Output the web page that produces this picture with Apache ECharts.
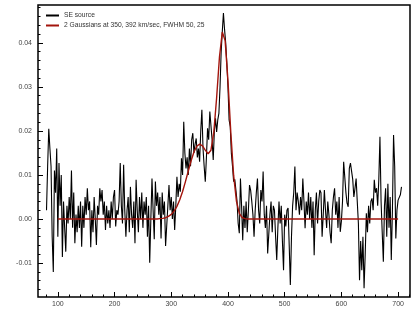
<!DOCTYPE html>
<html>
<head>
    <meta charset="UTF-8">
    <script src="https://cdn.jsdelivr.net/npm/echarts@6/dist/echarts.min.js"></script>
    <title>SE source spectrum</title>
</head>
<body style="margin:0;background:#fff;">
<div id="chart" style="width:415px;height:335px;"></div>
<script>
    // spectrum channels (km/sec) and flux
    var velocity = [
        80, 82, 84, 86, 88, 90, 92, 94, 96, 98,
        100, 102, 104, 106, 108, 110, 112, 114, 116, 118,
        120, 122, 124, 126, 128, 130, 132, 134, 136, 138,
        140, 142, 144, 146, 148, 150, 152, 154, 156, 158,
        160, 162, 164, 166, 168, 170, 172, 174, 176, 178,
        180, 182, 184, 186, 188, 190, 192, 194, 196, 198,
        200, 202, 204, 206, 208, 210, 212, 214, 216, 218,
        220, 222, 224, 226, 228, 230, 232, 234, 236, 238,
        240, 242, 244, 246, 248, 250, 252, 254, 256, 258,
        260, 262, 264, 266, 268, 270, 272, 274, 276, 278,
        280, 282, 284, 286, 288, 290, 292, 294, 296, 298,
        300, 302, 304, 306, 308, 310, 312, 314, 316, 318,
        320, 322, 324, 326, 328, 330, 332, 334, 336, 338,
        340, 342, 344, 346, 348, 350, 352, 354, 356, 358,
        360, 362, 364, 366, 368, 370, 372, 374, 376, 378,
        380, 382, 384, 386, 388, 390, 392, 394, 396, 398,
        400, 402, 404, 406, 408, 410, 412, 414, 416, 418,
        420, 422, 424, 426, 428, 430, 432, 434, 436, 438,
        440, 442, 444, 446, 448, 450, 452, 454, 456, 458,
        460, 462, 464, 466, 468, 470, 472, 474, 476, 478,
        480, 482, 484, 486, 488, 490, 492, 494, 496, 498,
        500, 502, 504, 506, 508, 510, 512, 514, 516, 518,
        520, 522, 524, 526, 528, 530, 532, 534, 536, 538,
        540, 542, 544, 546, 548, 550, 552, 554, 556, 558,
        560, 562, 564, 566, 568, 570, 572, 574, 576, 578,
        580, 582, 584, 586, 588, 590, 592, 594, 596, 598,
        600, 602, 604, 606, 608, 610, 612, 614, 616, 618,
        620, 622, 624, 626, 628, 630, 632, 634, 636, 638,
        640, 642, 644, 646, 648, 650, 652, 654, 656, 658,
        660, 662, 664, 666, 668, 670, 672, 674, 676, 678,
        680, 682, 684, 686, 688, 690, 692, 694, 696, 698,
        700, 702, 704, 706
    ];
    var flux = [
        0.0020, 0.0120, 0.0205, 0.0160, 0.0120, -0.0040, -0.0120, 0.0110, 0.0060, 0.0160,
        -0.0040, 0.0127, 0.0030, 0.0100, -0.0086, 0.0040, -0.0020, -0.0074, 0.0030, -0.0010,
        0.0050, 0.0000, 0.0110, -0.0020, 0.0060, -0.0055, 0.0010, -0.0030, 0.0030, -0.0020,
        0.0040, -0.0063, 0.0030, -0.0020, 0.0050, 0.0010, 0.0070, 0.0020, 0.0040, -0.0064,
        0.0020, -0.0030, 0.0050, 0.0000, -0.0059, 0.0030, 0.0010, 0.0070, 0.0040, 0.0066,
        0.0010, 0.0040, -0.0025, 0.0030, -0.0010, 0.0020, -0.0020, 0.0040, 0.0000, 0.0050,
        0.0066, -0.0017, 0.0020, 0.0010, 0.0040, 0.0127, 0.0030, -0.0010, 0.0123, 0.0020,
        -0.0040, 0.0020, 0.0050, -0.0030, 0.0073, 0.0010, -0.0020, 0.0040, -0.0055, 0.0089,
        0.0020, -0.0030, 0.0050, 0.0000, 0.0060, -0.0020, 0.0040, 0.0010, 0.0050, -0.0040,
        0.0030, -0.0099, 0.0000, 0.0092, 0.0020, -0.0046, 0.0085, 0.0030, 0.0060, 0.0010,
        0.0050, -0.0044, 0.0060, 0.0010, 0.0040, -0.0061, -0.0059, 0.0030, 0.0077, 0.0020,
        0.0050, 0.0000, 0.0040, -0.0025, 0.0030, 0.0096, 0.0050, 0.0080, 0.0062, 0.0138,
        0.0100, 0.0221, 0.0150, 0.0115, 0.0140, 0.0100, 0.0160, 0.0120, 0.0180, 0.0195,
        0.0150, 0.0170, 0.0183, 0.0140, 0.0160, 0.0130, 0.0200, 0.0248, 0.0160, 0.0120,
        0.0085, 0.0140, 0.0206, 0.0180, 0.0244, 0.0244, 0.0180, 0.0134, 0.0200, 0.0229,
        0.0198, 0.0225, 0.0240, 0.0300, 0.0380, 0.0426, 0.0468, 0.0430, 0.0400, 0.0354,
        0.0300, 0.0225, 0.0210, 0.0149, 0.0120, 0.0085, 0.0090, 0.0066, 0.0040, -0.0010,
        -0.0032, 0.0092, 0.0030, -0.0048, 0.0030, -0.0020, 0.0040, -0.0030, 0.0020, 0.0077,
        0.0065, 0.0040, 0.0010, -0.0040, 0.0020, 0.0060, 0.0092, 0.0020, -0.0010, 0.0066,
        0.0040, 0.0108, 0.0010, -0.0020, 0.0030, -0.0078, -0.0082, 0.0010, 0.0040, -0.0030,
        0.0030, 0.0020, -0.0040, -0.0093, -0.0020, 0.0040, -0.0010, 0.0030, -0.0050, -0.0116,
        0.0010, -0.0017, 0.0020, 0.0025, -0.0060, -0.0150, -0.0040, 0.0030, 0.0060, 0.0119,
        0.0020, 0.0060, 0.0040, 0.0010, 0.0050, 0.0020, 0.0092, 0.0040, -0.0021, 0.0040,
        0.0010, 0.0060, 0.0000, 0.0050, -0.0020, 0.0040, -0.0082, 0.0020, 0.0060, -0.0010,
        0.0040, 0.0066, 0.0060, -0.0040, 0.0010, 0.0066, 0.0020, -0.0020, 0.0040, 0.0010,
        -0.0030, -0.0055, 0.0020, 0.0050, 0.0070, 0.0010, 0.0040, -0.0020, 0.0050, -0.0029,
        -0.0005, 0.0040, 0.0130, 0.0127, 0.0060, 0.0036, 0.0028, 0.0115, 0.0127, 0.0130,
        0.0090, 0.0050, 0.0070, 0.0092, 0.0040, -0.0010, -0.0139, -0.0050, -0.0116, -0.0040,
        -0.0157, -0.0080, 0.0013, -0.0030, 0.0030, -0.0010, 0.0040, 0.0047, 0.0020, 0.0089,
        0.0060, 0.0070, 0.0030, 0.0090, 0.0187, 0.0040, -0.0030, -0.0097, 0.0030, 0.0070,
        -0.0040, 0.0080, -0.0020, 0.0050, -0.0093, 0.0020, 0.0191, 0.0120, -0.0044, 0.0020,
        0.0043, 0.0040, 0.0055, 0.0073
    ];

    // two-Gaussian fit
    var fitVelocity = [100, 275, 280, 285, 290, 295, 300, 305, 310, 315, 320, 325, 330, 335, 340, 345,
        350, 355, 360, 365, 370, 375, 380, 385, 390, 392, 395, 400, 405, 410, 415, 420, 425, 430, 435, 700];
    var fitFlux = [0, 0, 0.0001, 0.00015, 0.0003, 0.0006, 0.00106, 0.0018, 0.00288, 0.00437, 0.00626, 0.0085,
        0.01091, 0.01324, 0.01522, 0.01654, 0.01702, 0.01663, 0.01565, 0.01483, 0.01563, 0.01969, 0.02754,
        0.0368, 0.04247, 0.0427, 0.04051, 0.0314, 0.01965, 0.0099, 0.004, 0.0013, 0.00035, 0.0001, 0, 0];

    var xMajor = [100, 200, 300, 400, 500, 600, 700];
    var xMinor = [80, 120, 140, 160, 180, 220, 240, 260, 280, 320, 340, 360, 380, 420, 440, 460, 480,
        520, 540, 560, 580, 620, 640, 660, 680, 720];
    var yMajor = [-0.01, 0, 0.01, 0.02, 0.03, 0.04];
    var yMinor = [-0.016, -0.014, -0.012, -0.008, -0.006, -0.004, -0.002, 0.002, 0.004, 0.006, 0.008,
        0.012, 0.014, 0.016, 0.018, 0.022, 0.024, 0.026, 0.028, 0.032, 0.034, 0.036, 0.038,
        0.042, 0.044, 0.046, 0.048];

    var seriesNames = ['SE source', '2 Gaussians at 350, 392 km/sec, FWHM 50, 25'];

    var xRange = [65, 721];
    var yRange = [-0.0177, 0.0486];

    var specData = velocity.map(function (v, i) { return [v, flux[i]]; });
    var fitData = fitVelocity.map(function (v, i) { return [v, fitFlux[i]]; });

    var font = 'Liberation Sans, Arial, sans-serif';

    var chart = echarts.init(document.getElementById('chart'));
    chart.setOption({
        animation: false,
        textStyle: {fontFamily: font},
        grid: {
            left: 38, right: 5, top: 5, bottom: 38,
            show: true, borderColor: '#000', borderWidth: 1.5
        },
        legend: {
            data: seriesNames,
            orient: 'vertical',
            left: 46, top: 12,
            padding: 0,
            itemGap: 3,
            itemWidth: 13,
            itemHeight: 2,
            icon: 'rect',
            textStyle: {fontSize: 6.7, color: '#333', fontFamily: font}
        },
        xAxis: [
            {
                type: 'value', min: xRange[0], max: xRange[1],
                axisLine: {show: false, onZero: false},
                splitLine: {show: false},
                axisTick: {inside: true, length: 5, customValues: xMajor, lineStyle: {color: '#000'}},
                axisLabel: {customValues: xMajor, fontSize: 7, color: '#444', margin: 4}
            },
            {
                type: 'value', min: xRange[0], max: xRange[1], position: 'bottom',
                axisLine: {show: false, onZero: false},
                splitLine: {show: false},
                axisTick: {inside: true, length: 2.5, customValues: xMinor, lineStyle: {color: '#000'}},
                axisLabel: {show: false}
            }
        ],
        yAxis: [
            {
                type: 'value', min: yRange[0], max: yRange[1],
                axisLine: {show: false, onZero: false},
                splitLine: {show: false},
                axisTick: {inside: true, length: 5, customValues: yMajor, lineStyle: {color: '#000'}},
                axisLabel: {
                    customValues: yMajor, fontSize: 7, color: '#444', margin: 6,
                    formatter: function (v) { return v.toFixed(2); }
                }
            },
            {
                type: 'value', min: yRange[0], max: yRange[1], position: 'left',
                axisLine: {show: false, onZero: false},
                splitLine: {show: false},
                axisTick: {inside: true, length: 2.5, customValues: yMinor, lineStyle: {color: '#000'}},
                axisLabel: {show: false}
            }
        ],
        series: [
            {
                name: seriesNames[0],
                type: 'line',
                data: specData,
                showSymbol: false,
                color: '#000',
                lineStyle: {color: '#000', width: 1.1},
                z: 2
            },
            {
                name: seriesNames[1],
                type: 'line',
                data: fitData,
                showSymbol: false,
                color: '#a3140c',
                lineStyle: {color: '#a3140c', width: 1.4},
                z: 3
            }
        ]
    });
</script>
</body>
</html>
